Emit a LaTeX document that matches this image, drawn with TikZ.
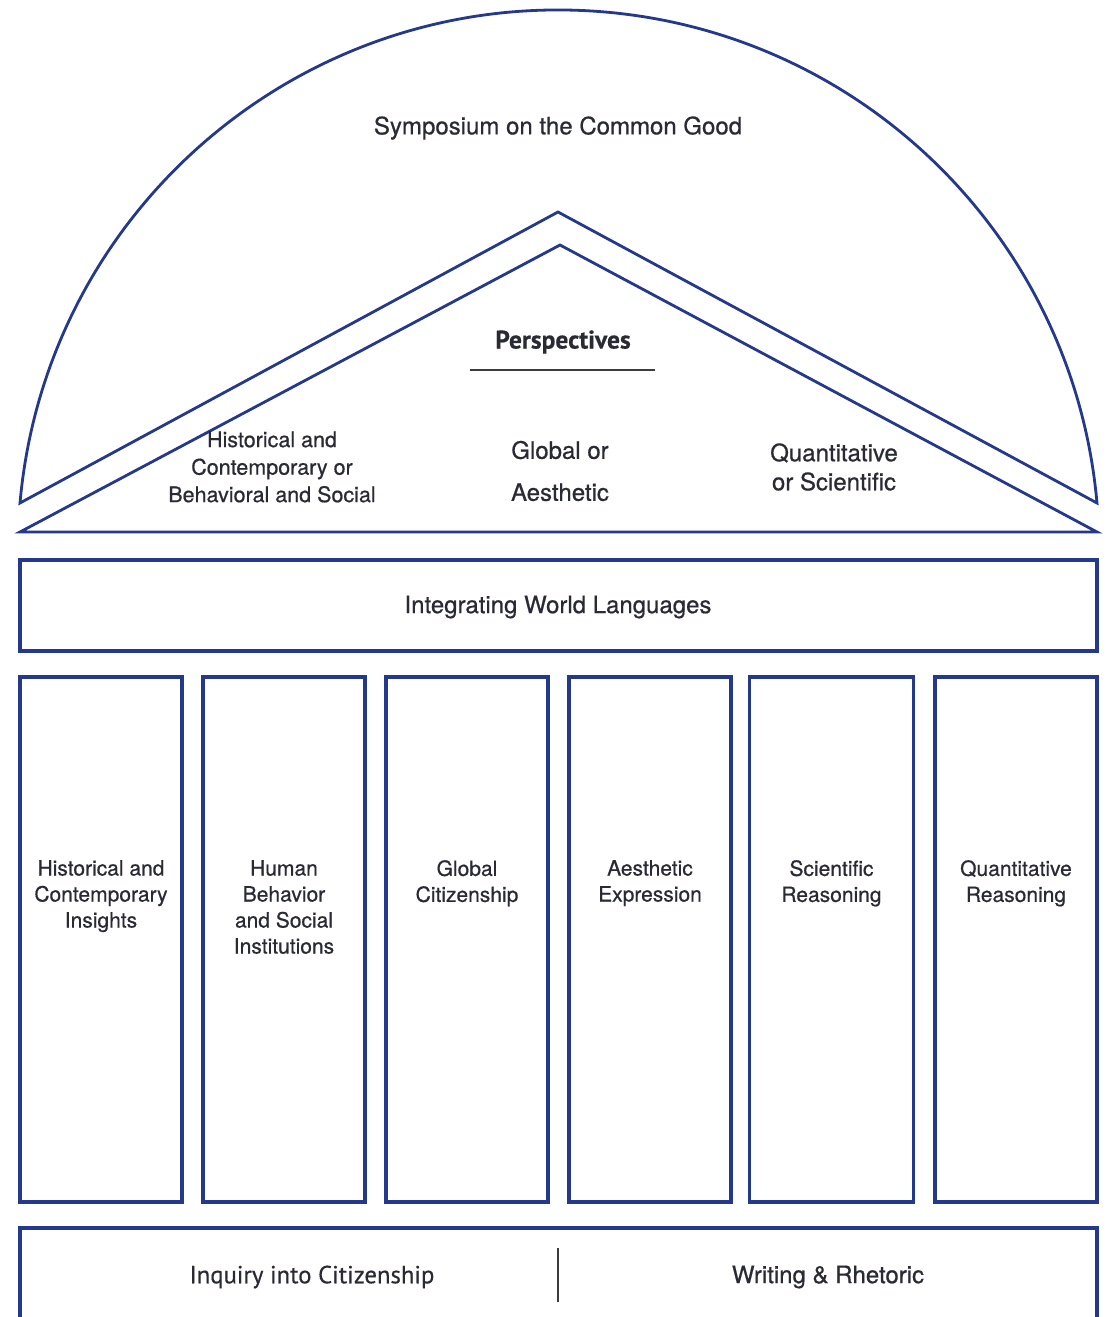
\documentclass[tikz,border=0pt]{standalone}
\usepackage{fontspec}
\setmainfont{TeX Gyre Heros}[FakeBold=0.6]
\newfontfamily\myriadish{PT Sans}[FakeBold=0.4]
\definecolor{navy}{RGB}{36,56,140}
\definecolor{ink}{RGB}{42,42,52}
\definecolor{rule}{RGB}{60,60,60}
\begin{document}
\begin{tikzpicture}[x=1pt,y=1pt,
  domeline/.style={draw=navy,line width=2.8pt,line join=miter},
  boxline/.style={draw=navy,line width=3.6pt,rectangle,inner sep=0pt},
  coltext/.style={text=ink,align=center,anchor=north,font=\fontsize{21}{26}\selectfont,inner sep=0pt},
  lbl/.style={text=ink,align=center,inner sep=0pt}]
\useasboundingbox (0,0) rectangle (1109,-1317);
\fill[white] (0,0) rectangle (1109,-1317);
% dome with outer roof
\coordinate (dl) at (20,-503);
\coordinate (dr) at (1097,-503);
\coordinate (apexo) at (558,-212);
\draw[domeline] (dl) arc[start angle=174.95,end angle=5.05,radius=540.6pt] -- (apexo) -- cycle;
% inner pediment
\coordinate (il) at (20,-532);
\coordinate (ir) at (1097,-532);
\coordinate (apexi) at (560,-245);
\draw[domeline] (il) -- (apexi) -- (ir) -- cycle;
% texts in dome
\node[lbl,font=\fontsize{24}{28}\selectfont] (symp) at (558,-128) {Symposium on the Common Good};
\node[lbl,font=\myriadish\bfseries\fontsize{25.5}{28}\selectfont] (persp) at (563,-342) {Perspectives};
\coordinate (ul) at (470,-370);
\coordinate (ur) at (655,-370);
\draw[rule,line width=1.8pt] (ul) -- (ur);
\node[lbl,font=\fontsize{21.5}{27.5}\selectfont] (p1) at (272,-467) {Historical and\\Contemporary or\\Behavioral and Social};
\node[lbl,font=\fontsize{24}{42}\selectfont] (p2) at (560,-471) {Global or\\Aesthetic};
\node[lbl,font=\fontsize{24}{29}\selectfont] (p3) at (834,-467) {Quantitative\\or Scientific};
% integrating world languages
\node[boxline,minimum width=1077pt,minimum height=91pt] (iwl) at (558.5,-605.5) {};
\node[lbl,font=\fontsize{24}{26}\selectfont] (iwlt) at (558,-607) {Integrating World Languages};
% columns
\node[boxline,minimum width=162pt,minimum height=525pt] (c1) at (101,-939.5) {};
\node[boxline,minimum width=162pt,minimum height=525pt] (c2) at (284,-939.5) {};
\node[boxline,minimum width=162pt,minimum height=525pt] (c3) at (467,-939.5) {};
\node[boxline,minimum width=162pt,minimum height=525pt] (c4) at (650,-939.5) {};
\node[boxline,minimum width=164pt,minimum height=525pt] (c5) at (831.5,-939.5) {};
\node[boxline,minimum width=162pt,minimum height=525pt] (c6) at (1016,-939.5) {};
\node[coltext] (t1) at (101,-860) {Historical and\\Contemporary\\Insights};
\node[coltext] (t2) at (284,-860) {Human\\Behavior\\and Social\\Institutions};
\node[coltext] (t3) at (467,-860) {Global\\Citizenship};
\node[coltext] (t4) at (650,-860) {Aesthetic\\Expression};
\node[coltext] (t5) at (831.5,-860) {Scientific\\Reasoning};
\node[coltext] (t6) at (1016,-860) {Quantitative\\Reasoning};
% bottom box
\node[boxline,minimum width=1077pt,minimum height=120pt] (base) at (558.5,-1288) {};
\coordinate (dvt) at (558,-1248);
\coordinate (dvb) at (558,-1302);
\draw[rule,line width=1.8pt] (dvt) -- (dvb);
\node[lbl,font=\myriadish\fontsize{24.7}{28}\selectfont] (inq) at (312,-1277) {Inquiry into Citizenship};
\node[lbl,font=\fontsize{24}{26}\selectfont] (wr) at (828,-1277) {Writing \& Rhetoric};
\end{tikzpicture}
\end{document}
